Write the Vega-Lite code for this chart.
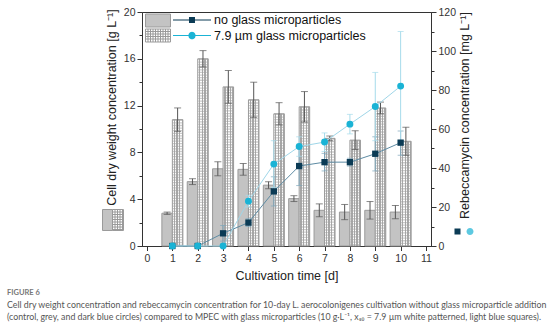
{
  "$schema": "https://vega.github.io/schema/vega-lite/v6.json",
  "width": 289,
  "height": 234,
  "autosize": {"type": "none"},
  "padding": {"left": 142, "top": 12, "right": 123, "bottom": 84},
  "background": "white",
  "config": {
    "view": {"stroke": "#333", "strokeWidth": 1},
    "axis": {"labelFont": "Liberation Sans", "labelFontSize": 10.5, "labelColor": "#333", "titleFont": "Liberation Sans", "titleFontSize": 12.5, "titleFontWeight": "normal", "titleColor": "#222", "domainColor": "#333", "tickColor": "#333", "grid": false, "labelOverlap": false}
  },
  "title": {
    "text": "FIGURE 6",
    "subtitle": ["Cell dry weight concentration and rebeccamycin concentration for 10-day L. aerocolonigenes cultivation without glass microparticle addition", "(control, grey, and dark blue circles) compared to MPEC with glass microparticles (10 g·L⁻¹, x₅₀ = 7.9 µm white patterned, light blue squares)."],
    "orient": "bottom", "anchor": "start", "frame": "group", "dx": -135, "offset": 7,
    "font": "Lato", "fontSize": 7.5, "fontWeight": "bold", "color": "#777",
    "subtitleFont": "Lato", "subtitleFontSize": 8.8, "subtitleColor": "#555", "subtitlePadding": 5, "subtitleLineHeight": 12
  },
  "data": {"values": [
    {"series": "no glass microparticles", "day": 1, "cdw": 2.8, "cdw_lo": 2.7, "cdw_hi": 2.9, "reb": 0, "reb_lo": 0, "reb_hi": 0},
    {"series": "no glass microparticles", "day": 2, "cdw": 5.5, "cdw_lo": 5.25, "cdw_hi": 5.75, "reb": 0, "reb_lo": 0, "reb_hi": 0},
    {"series": "no glass microparticles", "day": 3, "cdw": 6.6, "cdw_lo": 6.0, "cdw_hi": 7.2, "reb": 6.5, "reb_lo": 2.5, "reb_hi": 10.5},
    {"series": "no glass microparticles", "day": 4, "cdw": 6.55, "cdw_lo": 6.05, "cdw_hi": 7.05, "reb": 12, "reb_lo": 10, "reb_hi": 14},
    {"series": "no glass microparticles", "day": 5, "cdw": 5.2, "cdw_lo": 4.9, "cdw_hi": 5.5, "reb": 28, "reb_lo": 20.5, "reb_hi": 35.5},
    {"series": "no glass microparticles", "day": 6, "cdw": 4.05, "cdw_lo": 3.8, "cdw_hi": 4.3, "reb": 41, "reb_lo": 31, "reb_hi": 51},
    {"series": "no glass microparticles", "day": 7, "cdw": 3.05, "cdw_lo": 2.5, "cdw_hi": 3.6, "reb": 43, "reb_lo": 38.5, "reb_hi": 47.5},
    {"series": "no glass microparticles", "day": 8, "cdw": 2.9, "cdw_lo": 2.25, "cdw_hi": 3.55, "reb": 43, "reb_lo": 41, "reb_hi": 45},
    {"series": "no glass microparticles", "day": 9, "cdw": 3.05, "cdw_lo": 2.3, "cdw_hi": 3.8, "reb": 47.3, "reb_lo": 38.5, "reb_hi": 56},
    {"series": "no glass microparticles", "day": 10, "cdw": 2.9, "cdw_lo": 2.33, "cdw_hi": 3.47, "reb": 53, "reb_lo": 46.5, "reb_hi": 59},
    {"series": "7.9 µm glass microparticles", "day": 1, "cdw": 10.8, "cdw_lo": 9.8, "cdw_hi": 11.8, "reb": 0, "reb_lo": 0, "reb_hi": 0},
    {"series": "7.9 µm glass microparticles", "day": 2, "cdw": 16.0, "cdw_lo": 15.3, "cdw_hi": 16.7, "reb": 0, "reb_lo": 0, "reb_hi": 0},
    {"series": "7.9 µm glass microparticles", "day": 3, "cdw": 13.6, "cdw_lo": 12.2, "cdw_hi": 15.0, "reb": 0, "reb_lo": 0, "reb_hi": 0},
    {"series": "7.9 µm glass microparticles", "day": 4, "cdw": 12.5, "cdw_lo": 11.0, "cdw_hi": 14.0, "reb": 23, "reb_lo": 20, "reb_hi": 26},
    {"series": "7.9 µm glass microparticles", "day": 5, "cdw": 11.3, "cdw_lo": 10.35, "cdw_hi": 12.25, "reb": 42, "reb_lo": 30, "reb_hi": 54},
    {"series": "7.9 µm glass microparticles", "day": 6, "cdw": 11.9, "cdw_lo": 10.6, "cdw_hi": 13.2, "reb": 51, "reb_lo": 46, "reb_hi": 56},
    {"series": "7.9 µm glass microparticles", "day": 7, "cdw": 9.2, "cdw_lo": 9.0, "cdw_hi": 9.4, "reb": 53.3, "reb_lo": 48.5, "reb_hi": 58},
    {"series": "7.9 µm glass microparticles", "day": 8, "cdw": 9.05, "cdw_lo": 8.25, "cdw_hi": 9.85, "reb": 62.5, "reb_lo": 57.5, "reb_hi": 67.5},
    {"series": "7.9 µm glass microparticles", "day": 9, "cdw": 11.8, "cdw_lo": 11.3, "cdw_hi": 12.3, "reb": 71.5, "reb_lo": 54, "reb_hi": 89},
    {"series": "7.9 µm glass microparticles", "day": 10, "cdw": 8.95, "cdw_lo": 7.75, "cdw_hi": 10.15, "reb": 82, "reb_lo": 54, "reb_hi": 110}
  ]},
  "layer": [
    {
      "layer": [
        {
          "transform": [{"filter": "datum.series === 'no glass microparticles'"}],
          "mark": {"type": "bar", "width": 10.5, "xOffset": -5.25, "fill": "#c3c3c3"},
          "encoding": {
            "x": {"field": "day", "type": "quantitative", "scale": {"domain": [0, 11], "nice": false},
              "axis": {"values": [0,0.5,1,1.5,2,2.5,3,3.5,4,4.5,5,5.5,6,6.5,7,7.5,8,8.5,9,9.5,10,10.5,11], "tickCount": 100, "format": "d", "labelExpr": "datum.value % 1 === 0 ? datum.label : ''", "labelOverlap": false,
                "tickSize": {"condition": {"test": "datum.value % 1 !== 0", "value": 2.5}, "value": 4.5}, "labelPadding": 3, "labelFlush": false, "title": "Cultivation time [d]", "titlePadding": 5}},
            "y": {"field": "cdw", "type": "quantitative", "scale": {"domain": [0, 20], "nice": false},
              "axis": {"orient": "left", "values": [0,2,4,6,8,10,12,14,16,18,20], "tickCount": 100, "format": "d", "labelExpr": "datum.value % 4 === 0 ? datum.label : ''", "labelOverlap": false,
                "tickSize": {"condition": {"test": "datum.value % 4 !== 0", "value": 3}, "value": 5}, "labelPadding": 2, "title": "Cell dry weight concentration [g L⁻¹]", "titlePadding": 5, "titleY": 95}},
            "stroke": {"datum": "S", "type": "nominal", "scale": {"domain": ["S"], "range": ["#9a9a9a"]},
              "legend": {"orient": "none", "legendX": 3, "legendY": 1.5, "title": null, "labelExpr": "''", "labelOffset": 0, "symbolSize": 169, "symbolStrokeWidth": 1,
                "symbolType": "M-1,-1H2.846V1H-1ZM-1,1.308H2.846M2.846,1.308V3.308M2.846,3.308H-1M-1,3.308V1.308M-0.615,1.308V3.308M-0.23,1.308V3.308M0.155,1.308V3.308M0.54,1.308V3.308M0.925,1.308V3.308M1.31,1.308V3.308M1.695,1.308V3.308M2.08,1.308V3.308M2.465,1.308V3.308M-1,1.693H2.846M-1,2.078H2.846M-1,2.463H2.846M-1,2.848H2.846"}},
            "strokeWidth": {"datum": "W", "type": "nominal", "scale": {"domain": ["W"], "range": [1]},
              "legend": {"orient": "none", "legendX": -29.5, "legendY": 208, "title": null, "labelExpr": "''", "labelOffset": 0, "symbolSize": 169,
                "symbolType": "M-1.538,-1.615H0V1.615H-1.538ZM0,-1.615H1.692M1.692,-1.615V1.615M1.692,1.615H0M0.385,-1.615V1.615M0.77,-1.615V1.615M1.155,-1.615V1.615M1.54,-1.615V1.615M0,-1.23H1.692M0,-0.845H1.692M0,-0.46H1.692M0,-0.075H1.692M0,0.31H1.692M0,0.695H1.692M0,1.08H1.692M0,1.465H1.692"}}
          }
        },
        {
          "transform": [{"filter": "datum.series !== 'no glass microparticles'"}],
          "mark": {"type": "bar", "width": 10.5, "xOffset": 5.25, "stroke": "#9a9a9a", "strokeWidth": 1,
            "fill": {"gradient": "linear", "x1": 0, "y1": 0, "x2": 1, "y2": 0, "stops": [
              {"offset": 0, "color": "#ffffff"}, {"offset": 0.125, "color": "#ffffff"}, {"offset": 0.125, "color": "#a8a8a8"}, {"offset": 0.25, "color": "#a8a8a8"},
              {"offset": 0.25, "color": "#ffffff"}, {"offset": 0.375, "color": "#ffffff"}, {"offset": 0.375, "color": "#a8a8a8"}, {"offset": 0.5, "color": "#a8a8a8"},
              {"offset": 0.5, "color": "#ffffff"}, {"offset": 0.625, "color": "#ffffff"}, {"offset": 0.625, "color": "#a8a8a8"}, {"offset": 0.75, "color": "#a8a8a8"},
              {"offset": 0.75, "color": "#ffffff"}, {"offset": 0.875, "color": "#ffffff"}, {"offset": 0.875, "color": "#a8a8a8"}, {"offset": 1, "color": "#a8a8a8"}]}},
          "encoding": {
            "x": {"field": "day", "type": "quantitative"},
            "y": {"field": "cdw", "type": "quantitative"}
          }
        },
        {
          "transform": [{"filter": "datum.series !== 'no glass microparticles'"}],
          "mark": {"type": "rule", "strokeWidth": 9.5, "xOffset": 5.25, "stroke": "#a0a0a0", "strokeOpacity": 0.55, "strokeDash": [1.3, 1.3]},
          "encoding": {"x": {"field": "day", "type": "quantitative"}, "y": {"field": "cdw", "type": "quantitative"}, "y2": {"datum": 0}}
        },
        {
          "transform": [{"filter": "datum.series === 'no glass microparticles'"}],
          "mark": {"type": "rule", "xOffset": -5.25, "stroke": "#555", "strokeWidth": 1},
          "encoding": {"x": {"field": "day", "type": "quantitative"}, "y": {"field": "cdw_lo", "type": "quantitative"}, "y2": {"field": "cdw_hi"}}
        },
        {
          "transform": [{"filter": "datum.series === 'no glass microparticles'"}],
          "mark": {"type": "tick", "orient": "horizontal", "size": 7, "thickness": 1, "xOffset": -5.25, "color": "#555"},
          "encoding": {"x": {"field": "day", "type": "quantitative"}, "y": {"field": "cdw_hi", "type": "quantitative"}}
        },
        {
          "transform": [{"filter": "datum.series === 'no glass microparticles'"}],
          "mark": {"type": "tick", "orient": "horizontal", "size": 7, "thickness": 1, "xOffset": -5.25, "color": "#555"},
          "encoding": {"x": {"field": "day", "type": "quantitative"}, "y": {"field": "cdw_lo", "type": "quantitative"}}
        },
        {
          "transform": [{"filter": "datum.series !== 'no glass microparticles'"}],
          "mark": {"type": "rule", "xOffset": 5.25, "stroke": "#555", "strokeWidth": 1},
          "encoding": {"x": {"field": "day", "type": "quantitative"}, "y": {"field": "cdw_lo", "type": "quantitative"}, "y2": {"field": "cdw_hi"}}
        },
        {
          "transform": [{"filter": "datum.series !== 'no glass microparticles'"}],
          "mark": {"type": "tick", "orient": "horizontal", "size": 7, "thickness": 1, "xOffset": 5.25, "color": "#555"},
          "encoding": {"x": {"field": "day", "type": "quantitative"}, "y": {"field": "cdw_hi", "type": "quantitative"}}
        },
        {
          "transform": [{"filter": "datum.series !== 'no glass microparticles'"}],
          "mark": {"type": "tick", "orient": "horizontal", "size": 7, "thickness": 1, "xOffset": 5.25, "color": "#555"},
          "encoding": {"x": {"field": "day", "type": "quantitative"}, "y": {"field": "cdw_lo", "type": "quantitative"}}
        }
      ]
    },
    {
      "layer": [
        {
          "transform": [{"filter": "datum.series === 'no glass microparticles'"}],
          "mark": {"type": "line", "stroke": "#5d8ba3", "strokeWidth": 1},
          "encoding": {
            "x": {"field": "day", "type": "quantitative"},
            "y": {"field": "reb", "type": "quantitative", "scale": {"domain": [0, 120], "nice": false},
              "axis": {"orient": "right", "values": [0,10,20,30,40,50,60,70,80,90,100,110,120], "tickCount": 100, "format": "d", "labelExpr": "datum.value % 20 === 0 ? datum.label : ''", "labelOverlap": false,
                "tickSize": {"condition": {"test": "datum.value % 20 !== 0", "value": 3}, "value": 5}, "labelPadding": 2, "title": "Rebeccamycin concentration [mg L⁻¹]", "titleAngle": 270, "titleBaseline": "top", "titlePadding": 3, "titleY": 103}}
          }
        },
        {
          "transform": [{"filter": "datum.series !== 'no glass microparticles'"}],
          "mark": {"type": "line", "stroke": "#9fd6e8", "strokeWidth": 1},
          "encoding": {"x": {"field": "day", "type": "quantitative"}, "y": {"field": "reb", "type": "quantitative"}}
        },
        {
          "transform": [{"filter": "datum.series === 'no glass microparticles' && datum.reb_hi > datum.reb_lo"}],
          "mark": {"type": "rule", "stroke": "#7ea7bb", "strokeWidth": 1},
          "encoding": {"x": {"field": "day", "type": "quantitative"}, "y": {"field": "reb_lo", "type": "quantitative"}, "y2": {"field": "reb_hi"}}
        },
        {
          "transform": [{"filter": "datum.series === 'no glass microparticles' && datum.reb_hi > datum.reb_lo"}],
          "mark": {"type": "tick", "orient": "horizontal", "size": 6, "thickness": 1, "color": "#7ea7bb"},
          "encoding": {"x": {"field": "day", "type": "quantitative"}, "y": {"field": "reb_hi", "type": "quantitative"}}
        },
        {
          "transform": [{"filter": "datum.series === 'no glass microparticles' && datum.reb_hi > datum.reb_lo"}],
          "mark": {"type": "tick", "orient": "horizontal", "size": 6, "thickness": 1, "color": "#7ea7bb"},
          "encoding": {"x": {"field": "day", "type": "quantitative"}, "y": {"field": "reb_lo", "type": "quantitative"}}
        },
        {
          "transform": [{"filter": "datum.series !== 'no glass microparticles' && datum.reb_hi > datum.reb_lo"}],
          "mark": {"type": "rule", "stroke": "#a6dbeb", "strokeWidth": 1},
          "encoding": {"x": {"field": "day", "type": "quantitative"}, "y": {"field": "reb_lo", "type": "quantitative"}, "y2": {"field": "reb_hi"}}
        },
        {
          "transform": [{"filter": "datum.series !== 'no glass microparticles' && datum.reb_hi > datum.reb_lo"}],
          "mark": {"type": "tick", "orient": "horizontal", "size": 6, "thickness": 1, "color": "#a6dbeb"},
          "encoding": {"x": {"field": "day", "type": "quantitative"}, "y": {"field": "reb_hi", "type": "quantitative"}}
        },
        {
          "transform": [{"filter": "datum.series !== 'no glass microparticles' && datum.reb_hi > datum.reb_lo"}],
          "mark": {"type": "tick", "orient": "horizontal", "size": 6, "thickness": 1, "color": "#a6dbeb"},
          "encoding": {"x": {"field": "day", "type": "quantitative"}, "y": {"field": "reb_lo", "type": "quantitative"}}
        },
        {
          "transform": [{"filter": "datum.series === 'no glass microparticles'"}],
          "mark": {"type": "point", "filled": true, "shape": "square", "size": 40, "opacity": 1, "fill": "#0b3b55"},
          "encoding": {"x": {"field": "day", "type": "quantitative"}, "y": {"field": "reb", "type": "quantitative"}}
        },
        {
          "transform": [{"filter": "datum.series !== 'no glass microparticles'"}],
          "mark": {"type": "point", "filled": true, "shape": "circle", "size": 48, "opacity": 1, "fill": "#1ab3d5"},
          "encoding": {"x": {"field": "day", "type": "quantitative"}, "y": {"field": "reb", "type": "quantitative"}}
        },
        {
          "transform": [{"filter": "false"}],
          "mark": {"type": "point", "filled": true, "shape": "M-1,-0.08H4.85V0.08H-1ZM1.46,-0.46H2.38V0.46H1.46Z", "fill": "#0b3b55", "strokeWidth": 0},
          "encoding": {
            "x": {"field": "day", "type": "quantitative"},
            "y": {"field": "reb", "type": "quantitative"},
            "fill": {"datum": "no glass microparticles", "type": "nominal", "scale": {"domain": ["no glass microparticles"], "range": ["#0b3b55"]},
              "legend": {"orient": "none", "legendX": 31, "legendY": 1.5, "title": null, "labelFont": "Liberation Sans", "labelFontSize": 12.5, "labelColor": "#111", "labelOffset": 28, "symbolSize": 169, "symbolOpacity": 1, "symbolStrokeWidth": 0, "symbolType": "M-1,-0.08H4.85V0.08H-1ZM1.46,-0.46H2.38V0.46H1.46Z"}}
          }
        },
        {
          "transform": [{"filter": "false"}],
          "mark": {"type": "point", "filled": true, "fill": "#1ab3d5", "strokeWidth": 0},
          "encoding": {
            "x": {"field": "day", "type": "quantitative"},
            "y": {"field": "reb", "type": "quantitative"},
            "shape": {"datum": "7.9 µm glass microparticles", "type": "nominal", "scale": {"domain": ["7.9 µm glass microparticles"], "range": ["M-1,-0.08H4.85V0.08H-1ZM1.385,0A0.54,0.54 0 1,1 2.46,0A0.54,0.54 0 1,1 1.385,0Z"]},
              "legend": {"orient": "none", "legendX": 31, "legendY": 17, "title": null, "labelFont": "Liberation Sans", "labelFontSize": 12.5, "labelColor": "#111", "labelOffset": 28, "symbolSize": 169, "symbolOpacity": 1, "symbolStrokeWidth": 0, "symbolFillColor": "#1ab3d5"}}
          }
        },
        {
          "transform": [{"filter": "false"}],
          "mark": {"type": "point", "filled": true, "shape": "M0,-2V2M-0.6,-0.6H0.6V0.6H-0.6Z", "fill": "#0b3b55", "stroke": "#a9c2cf", "strokeWidth": 1},
          "encoding": {
            "x": {"field": "day", "type": "quantitative"},
            "y": {"field": "reb", "type": "quantitative"},
            "opacity": {"datum": "O1", "type": "nominal", "scale": {"domain": ["O1"], "range": [1]},
              "legend": {"orient": "none", "legendX": 310, "legendY": 214, "title": null, "labelExpr": "''", "labelOffset": 0, "symbolSize": 100, "symbolType": "M0,-2V2M-0.6,-0.6H0.6V0.6H-0.6Z", "symbolFillColor": "#0b3b55", "symbolStrokeColor": "#a9c2cf", "symbolStrokeWidth": 1}}
          }
        },
        {
          "transform": [{"filter": "false"}],
          "mark": {"type": "point", "filled": true, "shape": "M0,-2V2M-0.7,0A0.7,0.7 0 1,1 0.7,0A0.7,0.7 0 1,1 -0.7,0Z", "fill": "#1ab3d5", "stroke": "#bfe6f1", "strokeWidth": 1},
          "encoding": {
            "x": {"field": "day", "type": "quantitative"},
            "y": {"field": "reb", "type": "quantitative"},
            "strokeDash": {"datum": "D1", "type": "nominal", "scale": {"domain": ["D1"], "range": [[1, 0]]},
              "legend": {"orient": "none", "legendX": 322.5, "legendY": 214, "title": null, "labelExpr": "''", "labelOffset": 0, "symbolSize": 100, "symbolType": "M0,-2V2M-0.7,0A0.7,0.7 0 1,1 0.7,0A0.7,0.7 0 1,1 -0.7,0Z", "symbolFillColor": "#1ab3d5", "symbolStrokeColor": "#bfe6f1", "symbolStrokeWidth": 1}}
          }
        }
      ]
    }
  ],
  "resolve": {"scale": {"y": "independent"}}
}
